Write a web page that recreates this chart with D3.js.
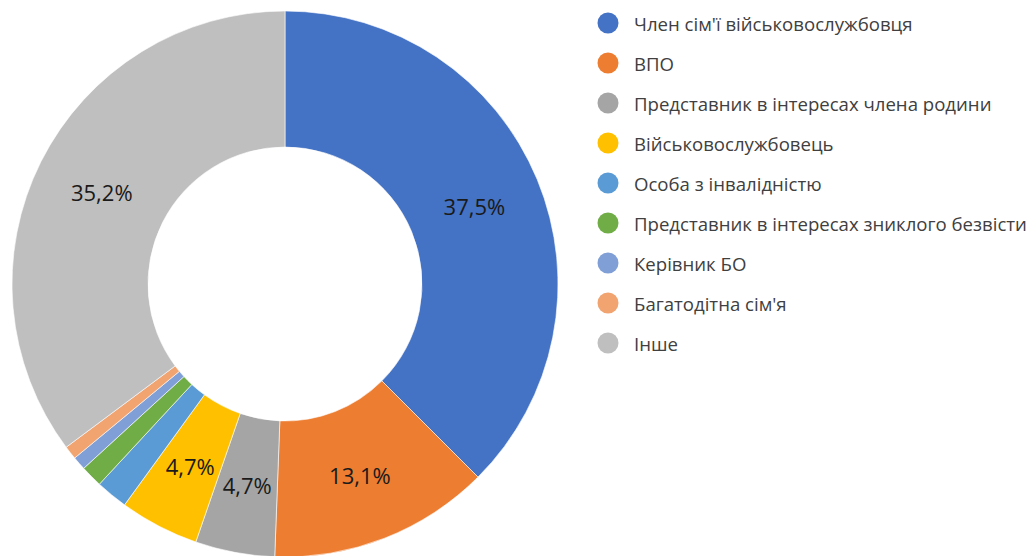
<!DOCTYPE html>
<html><head><meta charset="utf-8">
<script src="https://cdn.jsdelivr.net/npm/d3@7"></script>
<style>html,body{margin:0;padding:0;background:#fff;}svg{display:block;}</style>
</head><body>
<svg id="chart" width="1033" height="556"></svg>
<script>
const categories = ["Член сім'ї військовослужбовця","ВПО","Представник в інтересах члена родини","Військовослужбовець","Особа з інвалідністю","Представник в інтересах зниклого безвісти","Керівник БО","Багатодітна сім'я","Інше"];
const values = [37.5, 13.1, 4.7, 4.7, 1.9, 1.3, 0.8, 0.8, 35.2];
const colors = ["#4472C4","#ED7D31","#A5A5A5","#FFC000","#5B9BD5","#70AD47","#7F9FD6","#F1A370","#BFBFBF"];
const labelShown = [true,true,true,true,false,false,false,false,true];

const svg = d3.select("#chart");
const cx = 285, cy = 284, rOuter = 273, rInner = 137;
const pie = d3.pie().sort(null).value(d => d)(values);
const arc = d3.arc().innerRadius(rInner).outerRadius(rOuter);
const labelArc = d3.arc().innerRadius((rInner + rOuter)/2).outerRadius((rInner + rOuter)/2);
const g = svg.append("g").attr("transform", `translate(${cx},${cy})`);
g.selectAll("path").data(pie).enter().append("path")
  .attr("d", arc).attr("fill", (d,i) => colors[i])
  .attr("stroke", "#fff").attr("stroke-width", 0.6);
g.selectAll("text").data(pie.filter((d,i)=>labelShown[i])).enter().append("text")
  .attr("transform", d => `translate(${labelArc.centroid(d)})`)
  .attr("text-anchor","middle").attr("dominant-baseline","central")
  .attr("font-family","'Open Sans', 'Noto Sans', sans-serif").attr("font-size", 22)
  .attr("fill","#1a1a1a")
  .text(d => d.value.toFixed(1).replace(".", ",") + "%");

const legend = svg.append("g");
const rows = legend.selectAll("g").data(categories).enter().append("g")
  .attr("transform", (d,i) => `translate(608,${23 + i*40})`);
rows.append("circle").attr("r", 10.5).attr("fill", (d,i) => colors[i]);
rows.append("text").attr("x", 26).attr("dominant-baseline","central")
  .attr("font-family","'Open Sans', 'Noto Sans', sans-serif").attr("font-size", 18.6)
  .attr("fill","#404040").text(d => d);
</script>
</body></html>
